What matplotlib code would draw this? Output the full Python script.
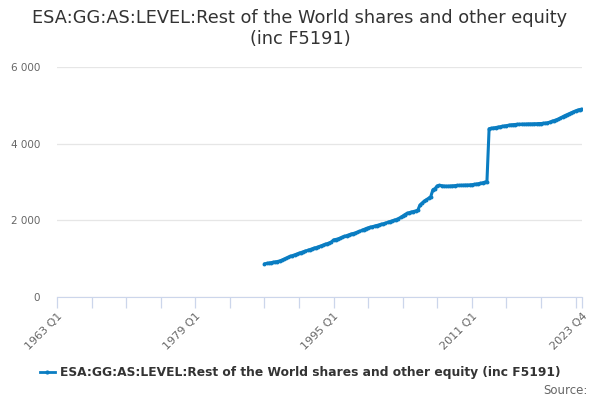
import matplotlib
matplotlib.use("Agg")
import matplotlib.pyplot as plt
from matplotlib.lines import Line2D
from matplotlib.ticker import FuncFormatter

# quarterly values, 1987 Q1 .. 2023 Q4
first_year = 1987
values = [
    865, 875, 885, 895,
    905, 915, 925, 940,
    960, 985, 1010, 1035,
    1060, 1080, 1100, 1120,
    1140, 1160, 1180, 1200,
    1215, 1235, 1255, 1275,
    1290, 1310, 1330, 1350,
    1370, 1390, 1410, 1435,
    1490, 1500, 1515, 1535,
    1560, 1580, 1600, 1620,
    1640, 1655, 1670, 1690,
    1710, 1735, 1760, 1785,
    1805, 1820, 1835, 1850,
    1865, 1880, 1895, 1910,
    1925, 1945, 1965, 1985,
    2000, 2020, 2045, 2075,
    2110, 2150, 2180, 2200,
    2215, 2230, 2245, 2265,
    2400, 2450, 2500, 2540,
    2575, 2620, 2800, 2830,
    2900, 2910, 2905, 2895,
    2890, 2890, 2895, 2900,
    2905, 2910, 2910, 2915,
    2915, 2920, 2920, 2925,
    2930, 2935, 2945, 2955,
    2965, 2980, 2995, 3010,
    4390, 4400, 4410, 4420,
    4430, 4440, 4450, 4460,
    4470, 4480, 4490, 4495,
    4500, 4505, 4505, 4510,
    4510, 4510, 4515, 4515,
    4515, 4520, 4520, 4525,
    4525, 4530, 4535, 4545,
    4560, 4580, 4600, 4620,
    4640, 4670, 4700, 4730,
    4755, 4780, 4805, 4830,
    4855, 4875, 4890, 4905,
]
label_ticks = ["1963 Q1", "1979 Q1", "1995 Q1", "2011 Q1", "2023 Q4"]
series_name = "ESA:GG:AS:LEVEL:Rest of the World shares and other equity (inc F5191)"
title = "ESA:GG:AS:LEVEL:Rest of the World shares and other equity\n(inc F5191)"

LINE = "#0a7dc2"
AXIS = "#ccd6eb"
GRID = "#e6e6e6"
TXT = "#666666"


def q_to_t(label):
    y, q = label.split(" Q")
    return int(y) + (int(q) - 1) / 4


x = [first_year + i / 4 for i in range(len(values))]

fig = plt.figure(figsize=(6, 4), dpi=100)
ax = fig.add_axes([0.095, 0.2575, 0.875, 0.575])
ax.plot(x, values, color=LINE, lw=2.2, marker="o", ms=1.8, solid_capstyle="round")

ax.set_xlim(1963, 2023.75)
ax.set_ylim(0, 6000)
ax.set_yticks([0, 2000, 4000, 6000])
ax.yaxis.set_major_formatter(FuncFormatter(lambda v, p: f"{int(v):,}".replace(",", " ")))
ax.grid(axis="y", color=GRID, lw=0.9)
ax.set_axisbelow(True)

major = [q_to_t(l) for l in label_ticks]
minor = [1963 + 4 * k for k in range(16)]
ax.set_xticks(major)
ax.set_xticklabels(label_ticks, rotation=45, ha="right", va="top",
                   rotation_mode="anchor", color=TXT, fontsize=8)
ax.set_xticks([m for m in minor if m not in major], minor=True)
ax.tick_params(axis="x", which="both", length=8, color=AXIS, width=0.9, pad=2)
ax.tick_params(axis="y", length=0, labelsize=7.5, labelcolor=TXT, pad=12)

for s in ["top", "right", "left"]:
    ax.spines[s].set_visible(False)
ax.spines["bottom"].set_color(AXIS)

fig.text(0.5, 0.928, title, ha="center", va="center", fontsize=12.8,
         color="#333333", linespacing=1.2)

h = Line2D([], [], color=LINE, lw=2, marker="o", ms=2)
fig.legend([h], [series_name], loc="center", bbox_to_anchor=(0.5, 0.068),
           frameon=False, handlelength=1.2, handletextpad=0.4,
           prop={"weight": "bold", "size": 8.8}, labelcolor="#333333")
fig.text(0.98, 0.025, "Source:", ha="right", va="center", fontsize=8.5, color=TXT)

fig.savefig("out.png", dpi=100)
